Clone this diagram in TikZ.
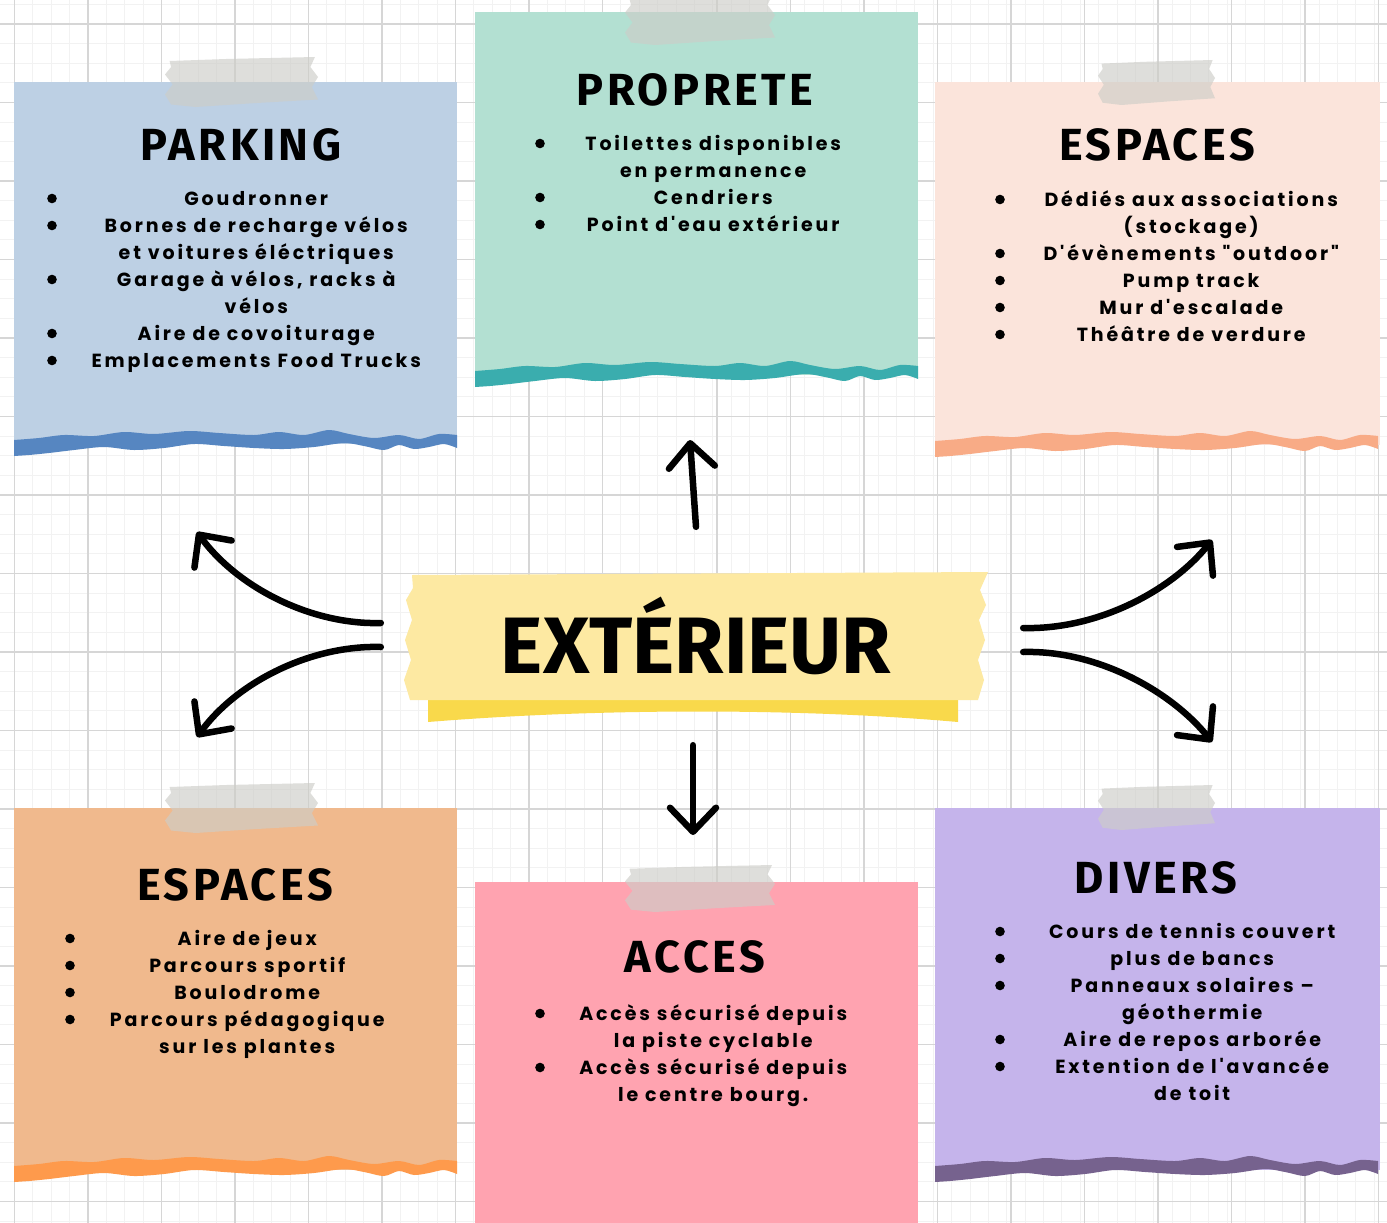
\documentclass[tikz,border=0pt]{standalone}
\usepackage{fontspec}
\usepackage{xcolor}
\usepackage{tikz}
\usetikzlibrary{arrows.meta, positioning, calc}
\setmainfont{Poppins}
\newfontfamily\titlefont{Fira Sans}[LetterSpace=8]
\newfontfamily\bigfont{Fira Sans}
\newfontfamily\listfont{Poppins}[LetterSpace=15]

\definecolor{parkfill}{HTML}{BDD0E4}
\definecolor{parkband}{HTML}{5686C1}
\definecolor{propfill}{HTML}{B3E0D2}
\definecolor{propband}{HTML}{3AADAE}
\definecolor{esphfill}{HTML}{FBE4DB}
\definecolor{esphband}{HTML}{F8AB86}
\definecolor{espbfill}{HTML}{F0B98D}
\definecolor{espbband}{HTML}{FE9A4C}
\definecolor{accfill}{HTML}{FFA3B0}
\definecolor{divfill}{HTML}{C5B4EB}
\definecolor{divband}{HTML}{76628E}
\definecolor{tapey}{HTML}{FDE9A2}
\definecolor{tapeyd}{HTML}{F9D94B}
\definecolor{tapegrey}{HTML}{CDCDC8}
\definecolor{gridline}{HTML}{D6D6D6}
\definecolor{gridfaint}{HTML}{F2F2F2}

\tikzstyle{title} = [font=\titlefont\bfseries\fontsize{45}{45}\selectfont, inner sep=0pt, anchor=base]
\tikzstyle{bigtitle} = [font=\bigfont\bfseries\fontsize{80}{80}\selectfont, inner sep=0pt, minimum width=580pt, minimum height=128pt]
\tikzstyle{itemlist} = [font=\listfont\bfseries\fontsize{19}{27}\selectfont, inner sep=0pt, anchor=base west]
\tikzstyle{dot} = [fill=black]
\tikzstyle{arrow} = [line width=6.5pt, line cap=round, -{Straight Barb[length=24pt, width=46pt, round]}]
\tikzstyle{tape} = [fill=tapegrey, opacity=0.65]

\newlength\listw
\newcommand{\bul}[1]{\hspace{10pt} & \makebox[\listw][c]{#1}\\}
\newcommand{\cont}[1]{& \makebox[\listw][c]{#1}\\}

% torn bottom edge of a card
\newcommand{\band}[3]{%
  \begin{scope}[shift={(#1,#2)}]
    \fill[#3] plot[smooth, tension=0.5] coordinates {(0,-4) (25,-6) (50,-9) (80,-8) (110,-12) (140,-10) (175,-13) (205,-11) (240,-9) (265,-12) (290,-9) (315,-14) (335,-10) (360,-6) (385,-9) (405,-5) (425,-10) (443,-9)}
      -- plot[smooth, tension=0.5] coordinates {(443,4) (430,0) (415,3) (400,5) (385,1) (370,6) (350,2) (330,-1) (300,3) (270,5) (240,4) (210,2) (180,0) (150,4) (120,6) (90,3) (60,6) (35,9) (15,11) (0,12)} -- cycle;
  \end{scope}}
% piece of tape
\newcommand{\tapepiece}[4]{%
  \begin{scope}[shift={(#1,#2)}, xscale=#3/100, yscale=#4/100]
    \fill[tape] (3,8) -- (40,4) -- (98,0) -- (95,20) -- (100,40) -- (96,60) -- (100,85) -- (60,92) -- (20,100) -- (4,95) -- (0,75) -- (5,55) -- (0,35) -- (4,20) -- cycle;
  \end{scope}}

\begin{document}
\begin{tikzpicture}[x=1pt, y=-1pt]
    \useasboundingbox (0,0) rectangle (1387,1223);
    \fill[white] (0,0) rectangle (1387,1223);

    % Grid
    \foreach \gx in {14.5,32.875,...,1387} \draw[gridfaint, line width=0.8pt] (\gx,0) -- (\gx,1223);
    \foreach \gy in {4.375,24,...,1223} \draw[gridfaint, line width=0.8pt] (0,\gy) -- (1387,\gy);
    \foreach \gx in {14.5,88,...,620} \draw[gridline, line width=1.3pt] (\gx,0) -- (\gx,1223);
    \foreach \gx in {717,790.5,...,1387} \draw[gridline, line width=1.3pt] (\gx,0) -- (\gx,1223);
    \foreach \gy in {24,102.5,...,1223} \draw[gridline, line width=1.3pt] (0,\gy) -- (1387,\gy);

    % Cards
    \fill[parkfill] (14,82) rectangle (457,444);
    \band{14}{444}{parkband}
    \fill[propfill] (475,12) rectangle (918,375);
    \band{475}{375}{propband}
    \fill[esphfill] (935,82) rectangle (1380,445);
    \band{935}{445}{esphband}
    \fill[espbfill] (14,808) rectangle (457,1170);
    \band{14}{1170}{espbband}
    \fill[accfill] (475,882) rectangle (918,1223);
    \fill[divfill] (935,808) rectangle (1380,1170);
    \band{935}{1170}{divband}

    % Tapes
    \tapepiece{165}{57}{153}{50}
    \tapepiece{625}{-5}{150}{50}
    \tapepiece{1098}{60}{117}{45}
    \tapepiece{165}{783}{153}{50}
    \tapepiece{625}{865}{150}{47}
    \tapepiece{1098}{785}{117}{45}

    % Centre
    \fill[tapeyd] (428,696) -- (958,696) -- (958,722) .. controls (800,708) and (600,708) .. (428,722) -- cycle;
    \fill[tapey] (412,575) -- (988,572) -- (980,590) -- (986,605) -- (979,620) -- (985,640) -- (978,660) -- (984,680) -- (978,700) -- (410,700) -- (404,680) -- (411,660) -- (405,640) -- (412,620) -- (406,600) -- (413,588) -- cycle;
    \node[bigtitle] (exterieur) at (696,636) {EXTÉRIEUR};

    % Titles
    \node[title] (parking) at (241,160) {PARKING};
    \node[title] (proprete) at (695,105) {PROPRETE};
    \node[title] (espaceshaut) at (1157,160) {ESPACES};
    \node[title] (espacesbas) at (235,900) {ESPACES};
    \node[title] (acces) at (695,972) {ACCES};
    \node[title] (divers) at (1156,893) {DIVERS};

    % Lists
    \node[itemlist] (parkinglist) at ($(parking.base)+(-194,45)$) {\setlength\listw{348pt}%
      \begin{tabular}[t]{@{}c@{\hspace{25pt}}c@{}}
        \bul{Goudronner}
        \bul{Bornes de recharge vélos}
        \cont{et voitures éléctriques}
        \bul{Garage à vélos, racks à}
        \cont{vélos}
        \bul{Aire de covoiturage}
        \bul{Emplacements Food Trucks}
      \end{tabular}};
    \node[itemlist] (propretelist) at ($(proprete.base)+(-160,45)$) {\setlength\listw{286pt}%
      \begin{tabular}[t]{@{}c@{\hspace{25pt}}c@{}}
        \bul{Toilettes disponibles}
        \cont{en permanence}
        \bul{Cendriers}
        \bul{Point d'eau extérieur}
      \end{tabular}};
    \node[itemlist] (espaceshautlist) at ($(espaceshaut.base)+(-162,46)$) {\setlength\listw{322pt}%
      \begin{tabular}[t]{@{}c@{\hspace{25pt}}c@{}}
        \bul{Dédiés aux associations}
        \cont{(stockage)}
        \bul{D'évènements "outdoor"}
        \bul{Pump track}
        \bul{Mur d'escalade}
        \bul{Théâtre de verdure}
      \end{tabular}};
    \node[itemlist] (espacesbaslist) at ($(espacesbas.base)+(-170,45)$) {\setlength\listw{294pt}%
      \begin{tabular}[t]{@{}c@{\hspace{25pt}}c@{}}
        \bul{Aire de jeux}
        \bul{Parcours sportif}
        \bul{Boulodrome}
        \bul{Parcours pédagogique}
        \cont{sur les plantes}
      \end{tabular}};
    \node[itemlist] (acceslist) at ($(acces.base)+(-160,48)$) {\setlength\listw{286pt}%
      \begin{tabular}[t]{@{}c@{\hspace{25pt}}c@{}}
        \bul{Accès sécurisé depuis}
        \cont{la piste cyclable}
        \bul{Accès sécurisé depuis}
        \cont{le centre bourg.}
      \end{tabular}};
    \node[itemlist] (diverslist) at ($(divers.base)+(-161,45)$) {\setlength\listw{324pt}%
      \begin{tabular}[t]{@{}c@{\hspace{25pt}}c@{}}
        \bul{Cours de tennis couvert}
        \bul{plus de bancs}
        \bul{Panneaux solaires –}
        \cont{géothermie}
        \bul{Aire de repos arborée}
        \bul{Extention de l'avancée}
        \cont{de toit}
      \end{tabular}};

    % Bullets
    \foreach \r in {0,1,3,5,6} \fill[dot] ($(parkinglist.base west)+(5,27*\r-6.5)$) circle (4.8pt);
    \foreach \r in {0,2,3} \fill[dot] ($(propretelist.base west)+(5,27*\r-6.5)$) circle (4.8pt);
    \foreach \r in {0,2,3,4,5} \fill[dot] ($(espaceshautlist.base west)+(5,27*\r-6.5)$) circle (4.8pt);
    \foreach \r in {0,1,2,3} \fill[dot] ($(espacesbaslist.base west)+(5,27*\r-6.5)$) circle (4.8pt);
    \foreach \r in {0,2} \fill[dot] ($(acceslist.base west)+(5,27*\r-6.5)$) circle (4.8pt);
    \foreach \r in {0,1,2,4,5} \fill[dot] ($(diverslist.base west)+(5,27*\r-6.5)$) circle (4.8pt);

    % Arrows
    \coordinate (tipN) at (690,440);
    \coordinate (tipS) at (693,835);
    \coordinate (tipNW) at (197,532);
    \coordinate (tipSW) at (197,737);
    \coordinate (tipNE) at (1212,540);
    \coordinate (tipSE) at (1212,742);
    \draw[arrow] ($(exterieur.north)+(0,-45)$) -- (tipN);
    \draw[arrow] ($(exterieur.south)+(-3,45)$) -- (tipS);
    \draw[arrow] ($(exterieur.west)+(-25,-13)$) .. controls +(-70,2) and +(40,55) .. (tipNW);
    \draw[arrow] ($(exterieur.west)+(-25,11)$) .. controls +(-70,-2) and +(40,-55) .. (tipSW);
    \draw[arrow] ($(exterieur.east)+(37,-8)$) .. controls +(75,2) and +(-40,50) .. (tipNE);
    \draw[arrow] ($(exterieur.east)+(37,16)$) .. controls +(75,-2) and +(-40,-50) .. (tipSE);
\end{tikzpicture}
\end{document}
